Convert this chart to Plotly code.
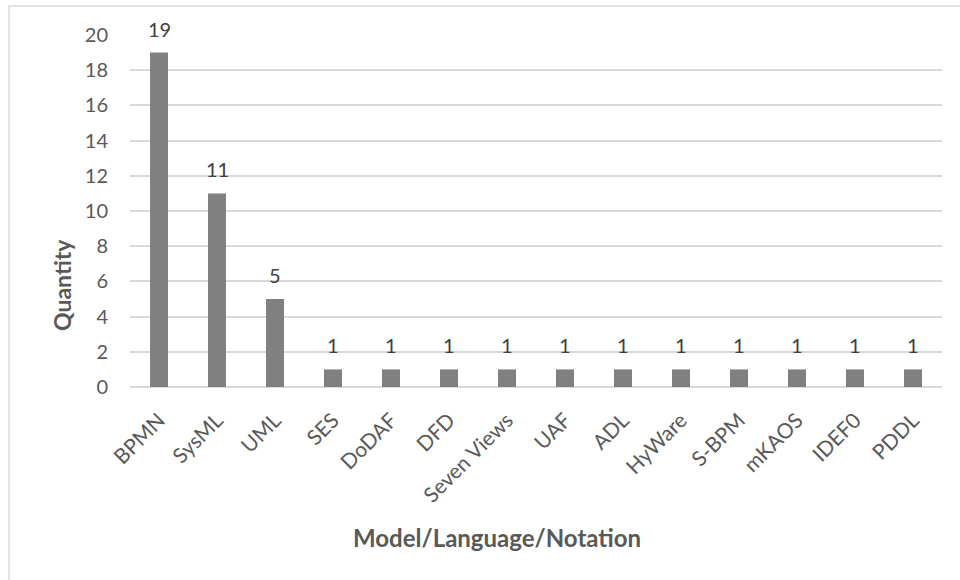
import plotly.graph_objects as go

categories = ["BPMN", "SysML", "UML", "SES", "DoDAF", "DFD", "Seven Views",
              "UAF", "ADL", "HyWare", "S-BPM", "mKAOS", "IDEF0", "PDDL"]
quantities = [19, 11, 5, 1, 1, 1, 1, 1, 1, 1, 1, 1, 1, 1]
y_ticks = [0, 2, 4, 6, 8, 10, 12, 14, 16, 18, 20]

FONT = "Lato, 'Open Sans', sans-serif"
W, H = 960, 580
L, R, T, B = 130, 18, 35, 193
PW, PH = W - L - R, H - T - B


def px_x(x):
    return (x - L) / PW


def px_y(y):
    return (H - B - y) / PH


fig = go.Figure(
    go.Bar(
        x=categories,
        y=quantities,
        marker=dict(color="#808080", line=dict(width=0)),
        width=0.31,
        hoverinfo="x+y",
    )
)

# value labels above each bar
value_labels = [
    dict(x=c, y=v, xref="x", yref="y", text=str(v), showarrow=False,
         xanchor="center", yanchor="bottom", yshift=10,
         font=dict(family=FONT, size=20, color="#404040"))
    for c, v in zip(categories, quantities)
]

fig.update_layout(
    width=W,
    height=H,
    margin=dict(l=L, r=R, t=T, b=B),
    paper_bgcolor="white",
    plot_bgcolor="white",
    showlegend=False,
    font=dict(family=FONT, color="#595959"),
    xaxis=dict(
        tickangle=-45,
        tickfont=dict(family=FONT, size=21, color="#595959"),
        showgrid=False,
        showline=False,
        ticks="",
        zeroline=False,
        ticklabelstandoff=16,
    ),
    yaxis=dict(
        range=[0, 20],
        tickvals=y_ticks,
        tickfont=dict(family=FONT, size=20, color="#595959"),
        showgrid=True,
        gridcolor="#d9d9d9",
        gridwidth=1.5,
        zeroline=True,
        zerolinecolor="#d9d9d9",
        zerolinewidth=1.5,
        showline=False,
        ticks="",
        ticklabelstandoff=21,
    ),
    annotations=value_labels + [
        dict(text="<b>Quantity</b>", xref="paper", yref="paper",
             x=px_x(62), y=px_y(285), textangle=-90, showarrow=False,
             font=dict(family=FONT, size=23, color="#595959"),
             xanchor="center", yanchor="middle"),
        dict(text="<b>Model/Language/Notation</b>", xref="paper", yref="paper",
             x=px_x(497), y=px_y(537), showarrow=False,
             font=dict(family=FONT, size=24, color="#595959"),
             xanchor="center", yanchor="middle"),
    ],
    shapes=[
        dict(type="rect", xref="paper", yref="paper",
             x0=px_x(9), x1=px_x(965), y0=px_y(590), y1=px_y(6),
             line=dict(color="#d9d9d9", width=1.5), fillcolor="rgba(0,0,0,0)",
             layer="below"),
    ],
)

fig.write_html("out.html")
